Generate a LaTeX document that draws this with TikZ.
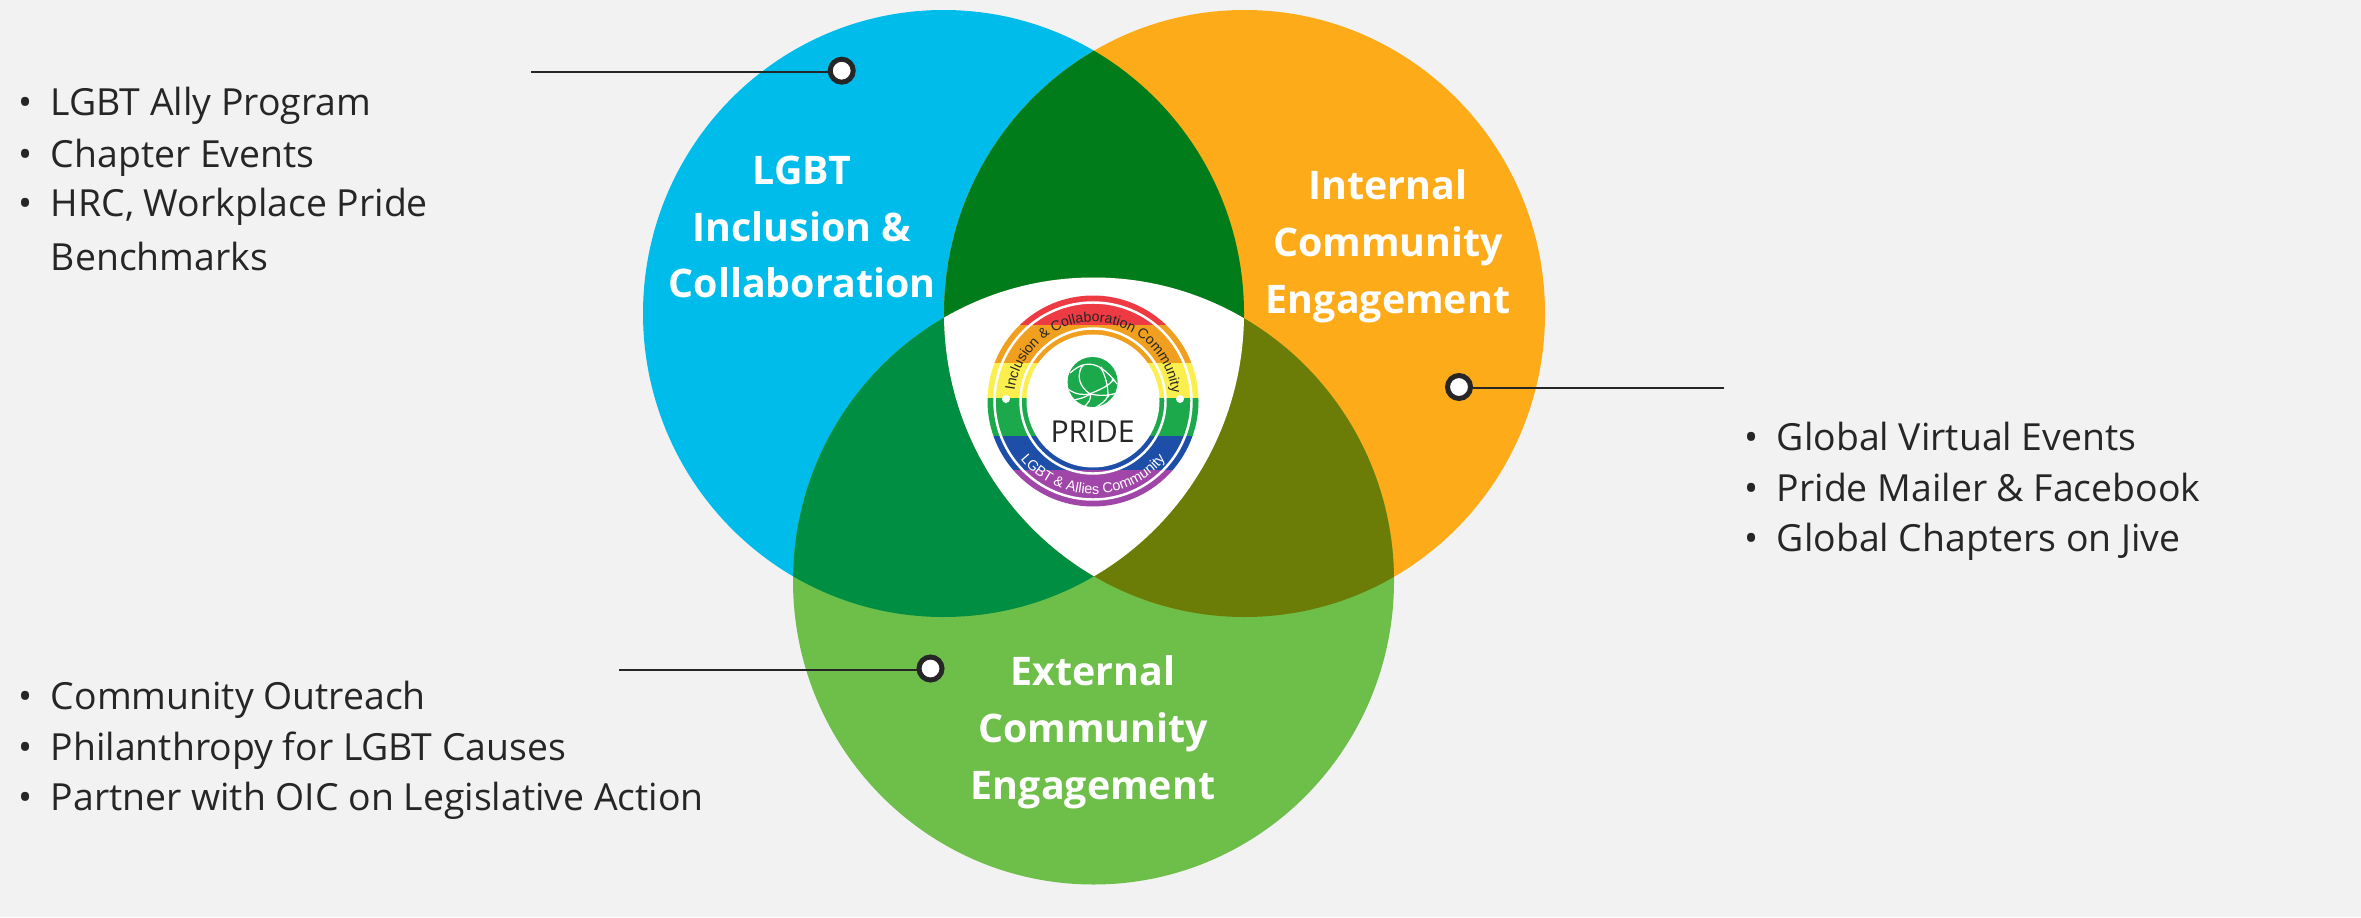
\documentclass[tikz,border=0pt]{standalone}
\usepackage{fontspec}
\setmainfont{Open Sans}
\newfontfamily\badgefont{Liberation Sans}
\usetikzlibrary{decorations.text, shapes.geometric}
\definecolor{pagegray}{HTML}{F2F2F2}
\definecolor{inkgray}{HTML}{262626}
\definecolor{inclusionblue}{HTML}{00BCEB}
\definecolor{internalorange}{HTML}{FDAB18}
\definecolor{externalgreen}{HTML}{6EBE4A}
\definecolor{blueorange}{HTML}{007D1A}
\definecolor{bluegreen}{HTML}{008E42}
\definecolor{orangegreen}{HTML}{6C7D07}
\definecolor{ringred}{HTML}{EE3A43}
\definecolor{ringorange}{HTML}{F0A01E}
\definecolor{ringyellow}{HTML}{FBEF4F}
\definecolor{ringgreen}{HTML}{1BA94C}
\definecolor{ringblue}{HTML}{1E4FA8}
\definecolor{ringpurple}{HTML}{A046A8}
\newcommand{\listline}[1]{\makebox[.32cm][l]{•}#1}
\begin{document}
\begin{tikzpicture}[
    line width = .8pt,
    every node/.style = {inner sep = 0pt}
]

\tikzstyle{venn circle}=[ellipse, minimum width = 6.01cm, minimum height = 6.07cm]
\tikzstyle{venn label}=[align = center, text = white, font = \fontsize{11.2}{16.2}\selectfont\bfseries]
\tikzstyle{list item}=[anchor = base west, text = inkgray, font = \fontsize{10.63}{12}\selectfont]
\tikzstyle{marker}=[circle, draw = inkgray, fill = white, line width = 1.42pt, minimum size = .23cm]
\tikzstyle{globe line}=[white, line width = .35pt]

\fill[pagegray] (0, 0) rectangle (23.61, 9.17);
\useasboundingbox (0, 0) rectangle (23.61, 9.17);

% the three circles
\node[venn circle, fill = inclusionblue] (Inclusion Circle) at (9.435, 6.035) {};
\node[venn circle, fill = internalorange] (Internal Circle) at (12.445, 6.035) {};
\node[venn circle, fill = externalgreen] (External Circle) at (10.935, 3.36) {};

% overlaps
\begin{scope}
    \clip (Inclusion Circle.center) ellipse (3.005 and 3.035);
    \fill[blueorange] (Internal Circle.center) ellipse (3.005 and 3.035);
    \fill[bluegreen] (External Circle.center) ellipse (3.005 and 3.035);
\end{scope}
\begin{scope}
    \clip (Internal Circle.center) ellipse (3.005 and 3.035);
    \fill[orangegreen] (External Circle.center) ellipse (3.005 and 3.035);
    \clip (Inclusion Circle.center) ellipse (3.005 and 3.035);
    \fill[white] (External Circle.center) ellipse (3.005 and 3.035);
\end{scope}

% badge
\coordinate (Badge) at (10.93, 5.16);
\begin{scope}
    \clip (Badge) circle (1.055);
    \fill[ringred] (9.8, 5.92) rectangle (12.05, 6.3);
    \fill[ringorange] (9.8, 5.54) rectangle (12.05, 5.92);
    \fill[ringyellow] (9.8, 5.19) rectangle (12.05, 5.54);
    \fill[ringgreen] (9.8, 4.81) rectangle (12.05, 5.19);
    \fill[ringblue] (9.8, 4.47) rectangle (12.05, 4.81);
    \fill[ringpurple] (9.8, 4.0) rectangle (12.05, 4.47);
\end{scope}
\draw[white, line width = .7pt] (Badge) circle (.985);
\draw[white, line width = .7pt] (Badge) circle (.725);
\fill[white] (Badge) circle (.665);
\fill[white] (10.06, 5.18) circle (.04);
\fill[white] (11.8, 5.18) circle (.04);
\path[postaction = {decorate, decoration = {text along path, text align = center,
    text = {|\fontsize{4}{5}\badgefont\color{inkgray}|Inclusion {\&} Collaboration Community}}}]
    (Badge) ++(176 : .79) arc (176 : 2 : .79);
\path[postaction = {decorate, decoration = {text along path, text align = center,
    text = {|\fontsize{4.1}{5}\badgefont\color{white}|LGBT {\&} Allies Community}}}]
    (Badge) ++(208 : .93) arc (208 : 332 : .93);

% globe
\node[circle, fill = ringgreen, minimum size = .5cm] (Globe) at (10.926, 5.35) {};
\begin{scope}
    \clip (Globe) circle (.25);
    \draw[globe line] (10.7, 5.44) .. controls (10.8, 5.53) and (10.9, 5.56) .. (11.01, 5.49) .. controls (11.07, 5.45) and (11.12, 5.4) .. (11.17, 5.33);
    \draw[globe line] (10.82, 5.51) .. controls (10.76, 5.4) and (10.8, 5.3) .. (10.9, 5.23) .. controls (10.92, 5.18) and (10.88, 5.14) .. (10.84, 5.1);
    \draw[globe line] (11.01, 5.49) .. controls (11.06, 5.4) and (11.08, 5.3) .. (11.08, 5.21) .. controls (11.06, 5.17) and (11.02, 5.13) .. (10.96, 5.1);
    \draw[globe line] (10.68, 5.28) .. controls (10.76, 5.22) and (10.83, 5.22) .. (10.9, 5.23) .. controls (10.96, 5.22) and (11.04, 5.2) .. (11.17, 5.24);
    \draw[globe line] (10.7, 5.17) .. controls (10.78, 5.17) and (10.86, 5.2) .. (10.9, 5.23) .. controls (10.98, 5.27) and (11.08, 5.3) .. (11.13, 5.37);
    \fill[white] (10.82, 5.51) circle (.017);
    \fill[white] (11.01, 5.49) circle (.017);
    \fill[white] (11.13, 5.37) circle (.017);
    \fill[white] (11.08, 5.21) circle (.017);
    \fill[white] (10.9, 5.23) circle (.017);
\end{scope}
\node[text = inkgray, font = \fontsize{8.6}{10}\selectfont] (Badge Name) at (10.926, 4.85) {PRIDE};

% circle titles
\node[venn label] (Inclusion Title) at (8.02, 6.9) {LGBT\\Inclusion \&\\Collaboration};
\node[venn label] (Internal Title) at (13.88, 6.71) {Internal\\Community\\Engagement};
\node[venn label] (External Title) at (10.93, 1.85) {External\\Community\\Engagement};

% lists
\node[list item] (Ally Program) at (.175, 8.015) {\listline{LGBT Ally Program}};
\node[list item] (Chapter Events) at (.175, 7.495) {\listline{Chapter Events}};
\node[list item] (Benchmarks) at (.175, 7.005) {\listline{HRC, Workplace Pride}};
\node[list item] (Benchmarks Second) at (.495, 6.465) {Benchmarks};

\node[list item] (Virtual Events) at (17.435, 4.665) {\listline{Global Virtual Events}};
\node[list item] (Pride Mailer) at (17.435, 4.155) {\listline{Pride Mailer \& Facebook}};
\node[list item] (Global Chapters) at (17.435, 3.655) {\listline{Global Chapters on Jive}};

\node[list item] (Community Outreach) at (.175, 2.075) {\listline{Community Outreach}};
\node[list item] (Philanthropy) at (.175, 1.565) {\listline{Philanthropy for LGBT Causes}};
\node[list item] (Partner) at (.175, 1.065) {\listline{Partner with OIC on Legislative Action}};

% markers and leaders
\node[marker] (Inclusion Marker) at (8.417, 8.463) {};
\node[marker] (Internal Marker) at (14.59, 5.3) {};
\node[marker] (External Marker) at (9.305, 2.485) {};
\coordinate (Inclusion End) at (5.31, 8.45);
\coordinate (Internal End) at (17.24, 5.29);
\coordinate (External End) at (6.19, 2.47);
\draw[inkgray] (Inclusion End) -- (Inclusion End -| Inclusion Marker.west);
\draw[inkgray] (Internal End -| Internal Marker.east) -- (Internal End);
\draw[inkgray] (External End) -- (External End -| External Marker.west);

\end{tikzpicture}
\end{document}
